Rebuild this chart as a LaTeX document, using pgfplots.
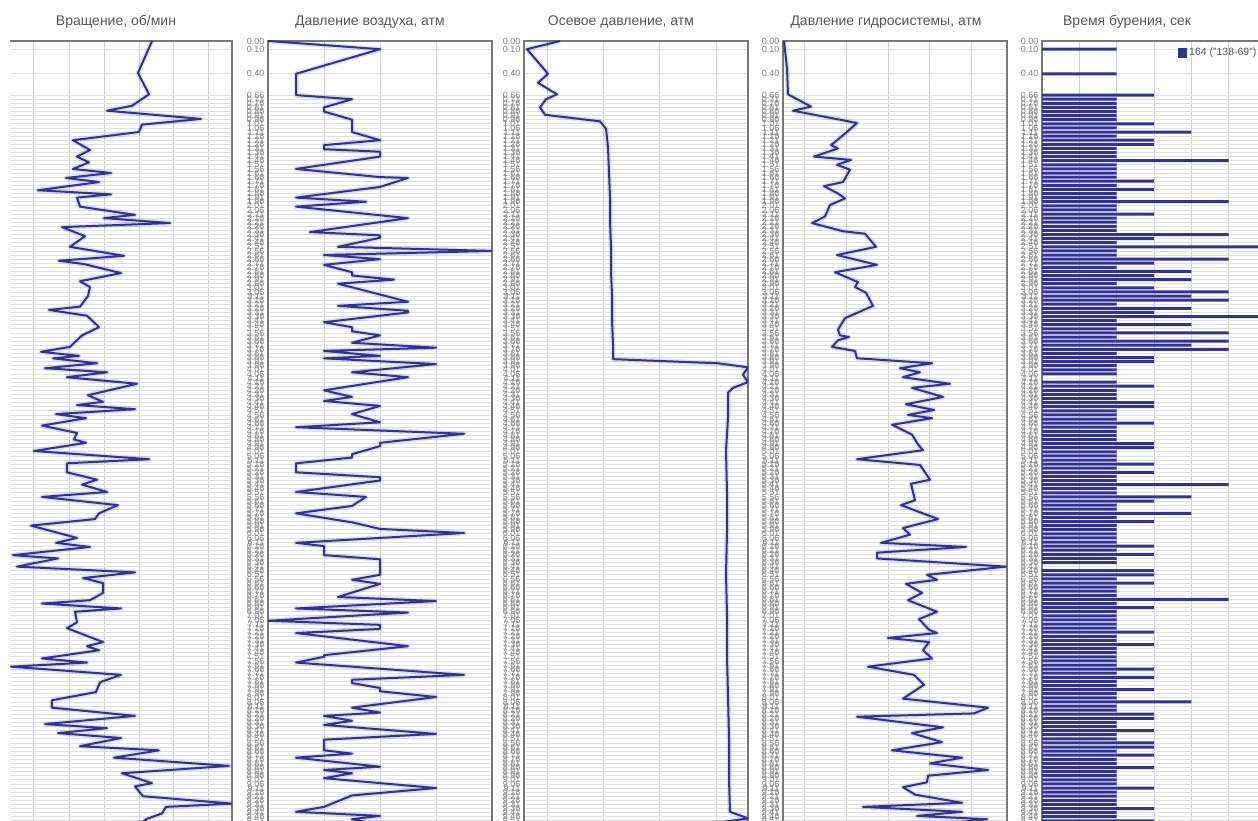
\documentclass[border=0pt]{standalone}
\usepackage{fontspec}
\setmainfont{Liberation Sans}
\usepackage{pgfplots}
\pgfplotsset{compat=1.18}
\definecolor{lineblue}{RGB}{50,50,150}
\definecolor{framegray}{RGB}{120,120,120}
\definecolor{hgrid}{RGB}{224,224,224}
\definecolor{vgrid}{RGB}{208,208,208}
\definecolor{labgray}{RGB}{130,130,130}
\definecolor{titlegray}{RGB}{85,85,85}
\pgfplotsset{
  panel/.style={
    scale only axis, width=224pt, height=799.5pt,
    anchor=north west,
    y dir=reverse, ymin=0, ymax=9.75,
    axis line style={draw=framegray, line width=2.4pt},
    ytick={0,0.1,0.4,0.66,0.71,...,9.62},
    ymajorgrids, xmajorgrids,
    y grid style={draw=hgrid, line width=0.8pt},
    x grid style={draw=vgrid, line width=0.9pt},
    major tick length=0pt,
    xticklabels={},
    ytick pos=left,
    /pgf/number format/assume math mode=true,
    yticklabel style={font=\fontsize{9}{9}\selectfont, text=labgray,
      /pgf/number format/.cd, fixed, fixed zerofill, precision=2},
    title style={font=\fontsize{14}{16}\selectfont, text=titlegray, anchor=base, yshift=9pt},
  },
  trace/.style={draw=lineblue, line width=2pt, line join=round, mark=none,
    preaction={draw=lineblue, draw opacity=0.15, line width=5pt, line join=round}},
}
\begin{document}
\begin{tikzpicture}
\useasboundingbox (0pt,0pt) rectangle (1258pt,821pt);
\begin{scope}
\clip (10pt,0pt) rectangle (1258pt,821pt);
% ---------- Panel 1 ----------
\begin{axis}[panel, at={(8pt,780pt)}, xmin=0, xmax=224,
  xtick={25,61,96,131,165,200},
  title={Вращение, об/мин}, title style={at={(axis description cs:0.482,1)}}]
\addplot[trace] table[x index=1, y index=0] {
0.00 144
0.39 130
0.65 141
0.79 124
0.85 99
0.95 193
1.02 134
1.11 131
1.21 65
1.33 82
1.41 69
1.48 81
1.56 65
1.61 103
1.67 58
1.72 91
1.82 30
1.87 103
1.91 69
2.02 72
2.12 127
2.16 96
2.22 162
2.27 54
2.38 77
2.51 62
2.62 116
2.68 51
2.72 76
2.83 113
2.93 72
3.00 82
3.11 80
3.24 72
3.28 41
3.35 79
3.49 91
3.59 74
3.73 62
3.79 33
3.84 71
3.87 45
3.93 89
3.99 37
4.04 99
4.10 59
4.18 129
4.32 80
4.40 95
4.44 69
4.49 127
4.55 48
4.60 78
4.69 34
4.78 69
4.86 66
4.90 78
5.00 26
5.10 141
5.15 59
5.26 59
5.35 89
5.41 74
5.50 99
5.56 34
5.66 110
5.76 91
5.83 87
5.91 23
6.06 69
6.12 48
6.17 82
6.27 5
6.31 50
6.41 9
6.48 127
6.55 75
6.61 95
6.73 95
6.82 82
6.86 34
6.92 113
6.96 67
7.09 69
7.16 59
7.33 95
7.38 79
7.43 91
7.53 34
7.58 79
7.63 3
7.73 113
7.82 92
7.94 88
8.04 44
8.13 44
8.23 127
8.33 37
8.38 99
8.44 50
8.50 113
8.60 72
8.65 151
8.74 106
8.84 221
8.93 114
9.05 144
9.09 127
9.21 135
9.30 224
9.34 158
9.42 154
9.49 138
9.58 130
};
\end{axis}
% ---------- Panel 2 ----------
\begin{axis}[panel, at={(268pt,780pt)}, xmin=0, xmax=4,
  xtick={1,2,3},
  title={Давление воздуха, атм}, title style={at={(axis description cs:0.455,1)}}]
\addplot[trace] table[x index=1, y index=0] {
0.00 0
0.10 2.0
0.40 0.5
0.66 0.5
0.71 1.5
0.81 1.0
0.86 1.0
0.96 1.5
1.11 1.5
1.21 2.0
1.27 1.0
1.32 1.0
1.35 2.0
1.41 2.0
1.56 0.5
1.66 2.0
1.67 2.5
1.78 2.0
1.91 0.5
1.96 1.75
2.02 0.5
2.16 2.5
2.33 0.75
2.37 2.0
2.40 2.0
2.51 1.25
2.56 4.0
2.61 1.0
2.66 2.0
2.73 1.0
2.82 1.5
2.86 1.5
2.91 2.25
2.96 1.25
3.18 2.5
3.23 1.25
3.29 2.5
3.31 2.5
3.43 1.0
3.49 1.5
3.54 1.5
3.59 2.0
3.68 1.5
3.74 3.0
3.78 1.0
3.84 2.0
3.87 1.0
3.94 3.0
4.04 1.5
4.10 2.5
4.26 1.0
4.34 1.5
4.39 1.0
4.45 2.0
4.55 1.5
4.65 2.0
4.71 0.5
4.79 3.5
4.90 2.0
4.94 2.0
5.04 1.5
5.08 1.5
5.15 0.5
5.26 0.5
5.32 2.0
5.36 2.0
5.50 0.5
5.56 1.75
5.67 1.5
5.76 0.5
5.87 1.5
5.95 2.0
6.00 3.5
6.12 0.5
6.16 1.0
6.27 1.0
6.32 2.0
6.51 2.0
6.57 1.5
6.62 2.0
6.78 1.25
6.83 3.0
6.92 0.5
6.97 2.5
7.07 0
7.12 2.0
7.17 2.0
7.22 0.5
7.38 2.5
7.49 1.0
7.51 1.0
7.58 0.5
7.73 3.5
7.79 1.5
7.83 1.5
7.89 2.0
7.93 2.0
8.00 3.0
8.13 1.5
8.19 2.0
8.23 1.0
8.29 1.5
8.34 1.0
8.45 3.0
8.52 1.0
8.65 1.0
8.69 1.5
8.74 0.5
8.85 2.0
8.89 1.0
8.93 1.5
8.99 1.0
9.11 3.0
9.20 1.5
9.34 1.0
9.40 0.5
9.45 2.0
9.49 1.5
9.56 2.0
};
\end{axis}
% ---------- Panel 3 ----------
\begin{axis}[panel, at={(524pt,780pt)}, xmin=0, xmax=224,
  xtick={23,79,135,192},
  title={Осевое давление, атм}, title style={at={(axis description cs:0.433,1)}}]
\addplot[trace] table[x index=1, y index=0] {
0.00 36
0.10 3
0.40 24
0.51 14
0.65 33
0.71 22
0.81 16
0.90 21
0.98 76
1.07 82
1.30 84
1.60 85
1.90 86
2.20 86
2.50 87
2.80 87
3.10 88
3.40 88
3.70 89
3.88 89
3.93 194
3.98 224
4.07 219
4.16 224
4.23 209
4.29 204
4.60 204
5.00 202
5.50 203
6.00 203
6.50 202
7.00 203
7.50 203
8.00 204
8.50 205
9.00 205
9.40 206
9.48 224
9.56 180
};
\end{axis}
% ---------- Panel 4 ----------
\begin{axis}[panel, at={(783pt,780pt)}, xmin=0, xmax=224,
  xtick={21,63,105,146,188},
  title={Давление гидросистемы, атм}, title style={at={(axis description cs:0.46,1)}}]
\addplot[trace] table[x index=1, y index=0] {
0.00 1
0.33 4
0.65 5
0.80 28
0.85 10
1.00 74
1.15 60
1.27 48
1.31 55
1.41 31
1.45 68
1.51 54
1.57 67
1.72 60
1.77 41
1.86 55
1.92 62
2.00 47
2.14 42
2.22 29
2.32 60
2.35 82
2.51 93
2.61 54
2.73 94
2.82 52
2.94 75
3.00 72
3.07 83
3.23 90
3.38 62
3.52 55
3.59 57
3.61 66
3.65 55
3.73 49
3.78 72
3.87 74
3.88 88
3.93 149
3.99 117
4.04 137
4.10 120
4.18 167
4.23 129
4.34 160
4.43 123
4.50 151
4.56 125
4.60 149
4.68 109
4.80 129
4.92 135
4.99 140
5.10 74
5.17 137
5.35 147
5.40 128
5.60 132
5.66 118
5.83 155
5.94 120
6.02 127
6.12 98
6.17 183
6.24 94
6.31 94
6.41 223
6.51 144
6.57 154
6.62 123
6.73 139
6.82 125
6.96 154
7.05 136
7.18 146
7.22 154
7.28 105
7.33 146
7.43 140
7.53 149
7.63 85
7.73 131
7.85 141
8.02 120
8.13 205
8.20 191
8.24 74
8.37 160
8.44 129
8.55 159
8.65 109
8.74 179
8.81 147
8.89 205
8.96 145
9.04 144
9.10 120
9.19 132
9.29 179
9.34 80
9.40 179
9.45 134
9.49 204
9.56 150
};
\end{axis}
% ---------- Panel 5 ----------
\begin{axis}[panel, at={(1042pt,780pt)}, xmin=0, xmax=6,
  xtick={1,2,3,4,5},
  title={Время бурения, сек}, title style={at={(axis description cs:0.38,1)}},
  legend style={at={(axis description cs:0.607,1)}, anchor=north west, yshift=-5pt,
    draw=none, fill=none, font=\fontsize{10.5}{11}\selectfont, text=titlegray,
    inner sep=0pt, legend cell align=left},
  legend image code/.code={\fill[lineblue] (0pt,-5pt) rectangle (9pt,5pt);},
  ]
\addplot[xbar, bar width=3pt, fill=lineblue, draw=none] table[x=v, y=d] {
d v
0.10 2
0.40 2
0.66 3
0.71 2
0.76 2
0.81 2
0.86 2
0.91 2
0.96 2
1.01 3
1.06 2
1.11 4
1.16 2
1.21 3
1.26 3
1.31 2
1.36 2
1.41 2
1.46 5
1.51 2
1.56 2
1.61 2
1.66 2
1.71 3
1.76 2
1.81 3
1.86 2
1.91 2
1.96 5
2.01 2
2.06 2
2.11 3
2.16 2
2.21 2
2.26 2
2.31 2
2.36 5
2.41 3
2.46 2
2.51 6.5
2.56 2
2.61 2
2.66 5
2.71 3
2.76 2
2.81 4
2.86 3
2.91 4
2.96 2
3.01 3
3.06 5
3.11 4
3.16 5
3.21 2
3.26 4
3.31 3
3.36 6.5
3.41 2
3.46 4
3.51 2
3.56 5
3.61 2
3.66 5
3.71 4
3.76 5
3.81 2
3.86 3
3.91 3
3.96 2
4.01 2
4.06 2
4.16 2
4.21 3
4.26 2
4.31 2
4.36 2
4.41 3
4.46 3
4.51 2
4.56 2
4.61 2
4.66 3
4.71 2
4.76 2
4.81 2
4.86 2
4.91 3
4.96 3
5.01 2
5.06 2
5.11 2
5.16 3
5.21 2
5.26 3
5.31 2
5.36 2
5.41 5
5.46 2
5.51 2
5.56 4
5.61 3
5.66 2
5.71 2
5.76 4
5.81 2
5.86 3
5.91 2
5.96 2
6.01 2
6.06 2
6.11 2
6.16 3
6.21 2
6.26 3
6.31 2
6.36 2
6.46 3
6.51 3
6.56 2
6.61 3
6.66 2
6.71 2
6.76 2
6.81 5
6.86 2
6.91 3
6.96 2
7.01 2
7.06 2
7.11 2
7.16 2
7.21 3
7.26 2
7.31 2
7.36 3
7.41 2
7.46 2
7.51 2
7.56 2
7.61 2
7.66 3
7.71 2
7.76 3
7.81 2
7.86 2
7.91 3
7.96 2
8.01 2
8.06 4
8.11 2
8.16 2
8.21 3
8.26 3
8.31 2
8.36 2
8.41 3
8.46 2
8.51 2
8.56 3
8.61 3
8.66 2
8.71 3
8.76 2
8.81 2
8.86 3
8.91 2
8.96 2
9.01 2
9.06 2
9.11 3
9.16 2
9.21 2
9.26 2
9.31 2
9.36 3
9.41 2
9.46 2
9.51 3
9.56 2
9.61 2
};
\addlegendentry{164 ("138-69")}
\end{axis}
\end{scope}
\end{tikzpicture}
\end{document}
